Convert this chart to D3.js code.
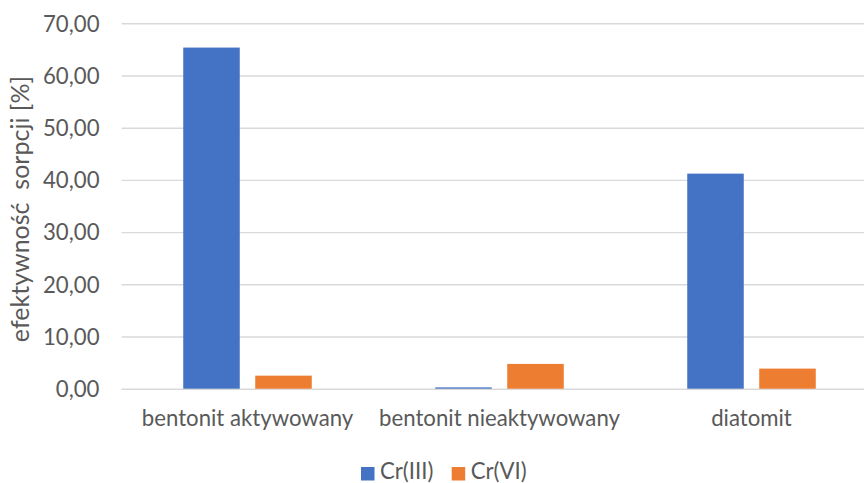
<!DOCTYPE html>
<html>
<head>
<meta charset="utf-8">
<script src="https://cdn.jsdelivr.net/npm/d3@7"></script>
<style>
  html, body { margin: 0; padding: 0; background: #fff; overflow: hidden; }
  svg { display: block; }
  text { font-family: Lato, "Open Sans", sans-serif; fill: #595959; }
</style>
</head>
<body>
<svg id="chart" width="864" height="483"></svg>
<script>
// Sorption efficiency of chromium species on three sorbents
const categories = ["bentonit aktywowany", "bentonit nieaktywowany", "diatomit"];
const seriesNames = ["Cr(III)", "Cr(VI)"];
const crIII = [65.35, 0.25, 41.2];
const crVI = [2.5, 4.75, 3.85];
const yTicks = [0, 10, 20, 30, 40, 50, 60, 70];
const colors = ["#4472C4", "#ED7D31"];

const values = [crIII, crVI];
const rows = categories.map((c, i) => ({
  category: c,
  items: seriesNames.map((s, k) => ({ series: s, value: values[k][i] }))
}));

const svg = d3.select("#chart");
const plot = { left: 121.5, right: 877.5, top: 23.3, bottom: 388.7 };
const fontSize = "22.2px";

const y = d3.scaleLinear().domain([0, 70]).range([plot.bottom, plot.top]);
const x0 = d3.scaleBand().domain(categories).range([plot.left, plot.right]).padding(0);
const bw = x0.bandwidth();
const x1 = d3.scaleBand().domain(seriesNames)
  .range([bw * 0.245, bw * 0.755]).paddingInner(0.215).paddingOuter(0);
const color = d3.scaleOrdinal().domain(seriesNames).range(colors);

const fmt = v => d3.format(".2f")(v).replace(".", ",");

// horizontal gridlines and value labels
const yAxis = d3.axisLeft(y).tickValues(yTicks).tickFormat(fmt)
  .tickSize(-(plot.right - plot.left)).tickPadding(22);
const gy = svg.append("g").attr("transform", `translate(${plot.left},0)`).call(yAxis);
gy.select(".domain").remove();
gy.selectAll(".tick line").attr("stroke", "#d9d9d9").attr("stroke-width", 1.4);
gy.selectAll(".tick text")
  .style("font-size", fontSize)
  .attr("dy", "0.35em")
  .style("fill", "#595959");

// grouped bars
const groups = svg.append("g").selectAll("g")
  .data(rows).join("g")
  .attr("transform", d => `translate(${x0(d.category)},0)`);
groups.selectAll("rect")
  .data(d => d.items).join("rect")
  .attr("x", d => x1(d.series))
  .attr("width", x1.bandwidth())
  .attr("y", d => y(d.value))
  .attr("height", d => y(0) - y(d.value))
  .attr("fill", d => color(d.series));

// category labels
const xAxis = d3.axisBottom(x0).tickSize(0).tickPadding(22);
const gx = svg.append("g").attr("transform", `translate(0,${plot.bottom})`).call(xAxis);
gx.select(".domain").remove();
gx.selectAll(".tick text").style("font-size", fontSize).style("fill", "#595959");

// y-axis title
svg.append("text")
  .attr("transform", `translate(29,${(plot.top + plot.bottom) / 2 + 3}) rotate(-90)`)
  .attr("text-anchor", "middle")
  .style("font-size", "25px")
  .style("white-space", "pre")
  .text("efektywność  sorpcji [%]");

// legend
const legend = svg.append("g");
const legendX = [361, 451.7];
seriesNames.forEach((s, i) => {
  legend.append("rect")
    .attr("x", legendX[i]).attr("y", 467)
    .attr("width", 13.5).attr("height", 13.5)
    .attr("fill", color(s));
  legend.append("text")
    .attr("x", legendX[i] + 19).attr("y", 478.5)
    .style("font-size", fontSize)
    .text(s);
});
</script>
</body>
</html>
